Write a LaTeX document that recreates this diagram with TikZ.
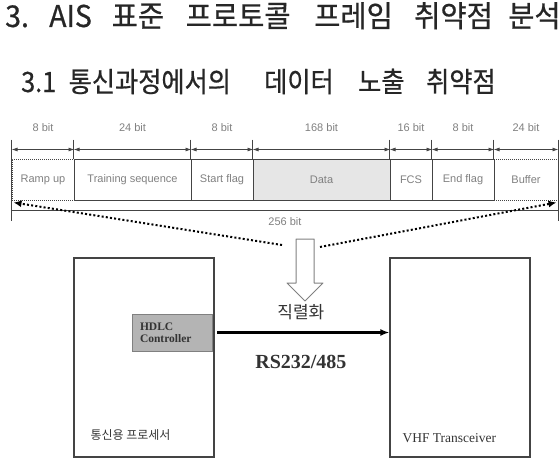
\documentclass[tikz,border=0pt]{standalone}
\usepackage{fontspec}
\setmainfont{Liberation Sans}
\newfontfamily\krfont{Noto Sans CJK KR}
\newfontfamily\krtitlefont[FakeBold=0.6, FakeStretch=0.95]{Noto Sans CJK KR}
\newfontfamily\krheadfont[FakeBold=0.6, FakeStretch=0.9]{Noto Sans CJK KR}
\newfontfamily\serifont{Liberation Serif}
\usetikzlibrary{arrows.meta}
\definecolor{framegray}{HTML}{444444}
\definecolor{textgray}{HTML}{808080}
\definecolor{datagray}{HTML}{E6E6E6}
\definecolor{hdlcgray}{HTML}{B4B4B4}
\tikzset{
  titleword/.style={anchor=base west, inner sep=0pt, text=black!85, font=\krtitlefont\fontsize{30}{33}\selectfont},
  headword/.style={anchor=base west, inner sep=0pt, text=black!85, font=\krheadfont\fontsize{28}{31}\selectfont},
  field/.style={draw=framegray, line width=1pt, text=textgray, shape=rectangle, minimum height=41pt, inner sep=0pt, font=\fontsize{11}{13}\selectfont},
  optfield/.style={field, densely dotted},
  bitlabel/.style={text=textgray, font=\fontsize{11}{13}\selectfont},
  tickline/.style={draw=framegray, line width=0.8pt},
  dimline/.style={{Latex[length=6pt,width=4pt]}-{Latex[length=6pt,width=4pt]}, line width=0.8pt, draw=framegray},
  spanline/.style={line width=2pt, dash pattern=on 2pt off 2.2pt, -{Latex[length=8pt,width=7pt]}},
  unit/.style={draw=framegray, line width=1.2pt, shape=rectangle, minimum width=140pt, minimum height=199pt},
}
\begin{document}
\begin{tikzpicture}[x=1pt, y=-1pt]
\useasboundingbox (0,0) rectangle (560,471);

% headings
\node[titleword] (title_no) at (5,27) {3.};
\node[titleword] (title_ais) at (49,27) {AIS};
\node[titleword] (title_std) at (111.5,27) {표준};
\node[titleword] (title_proto) at (185.5,27) {프로토콜};
\node[titleword] (title_frame) at (314,27) {프레임};
\node[titleword] (title_vuln) at (414,27) {취약점};
\node[titleword] (title_anal) at (508,27) {분석};
\node[headword] (sub_no) at (21,92) {3.1};
\node[headword] (sub_comm) at (68.5,92) {통신과정에서의};
\node[headword] (sub_data) at (264,92) {데이터};
\node[headword] (sub_expo) at (358,92) {노출};
\node[headword] (sub_vuln) at (426,92) {취약점};

% frame fields
\node[optfield, minimum width=62pt] (ramp_up) at (43,179.5) {Ramp up};
\node[optfield, minimum width=64pt] (buffer) at (526,179.5) {Buffer};
\node[field, minimum width=117pt] (training) at (132.5,179.5) {Training sequence};
\node[field, minimum width=62pt] (start_flag) at (222,179.5) {Start flag};
\node[field, minimum width=137pt, fill=datagray] (data) at (321.5,179.5) {Data};
\node[field, minimum width=42pt] (fcs) at (411,179.5) {FCS};
\node[field, minimum width=62pt] (end_flag) at (463,179.5) {End flag};

\draw[tickline] ([yshift=19pt]ramp_up.north west) -- ([yshift=-20pt]ramp_up.south west);
\draw[tickline] ([yshift=19pt]training.north west) -- (training.north west);
\draw[tickline] ([yshift=19pt]start_flag.north west) -- (start_flag.north west);
\draw[tickline] ([yshift=19pt]data.north west) -- (data.north west);
\draw[tickline] ([yshift=19pt]fcs.north west) -- (fcs.north west);
\draw[tickline] ([yshift=19pt]end_flag.north west) -- (end_flag.north west);
\draw[tickline] ([yshift=19pt]buffer.north west) -- (buffer.north west);
\draw[tickline] ([yshift=19pt]buffer.north east) -- ([yshift=-20pt]buffer.south east);

\draw[dimline] ([yshift=9pt]ramp_up.north west) -- node[bitlabel, yshift=22pt] {8 bit} ([yshift=9pt]ramp_up.north east);
\draw[dimline] ([yshift=9pt]training.north west) -- node[bitlabel, yshift=22pt] {24 bit} ([yshift=9pt]training.north east);
\draw[dimline] ([yshift=9pt]start_flag.north west) -- node[bitlabel, yshift=22pt] {8 bit} ([yshift=9pt]start_flag.north east);
\draw[dimline] ([yshift=9pt]data.north west) -- node[bitlabel, yshift=22pt] {168 bit} ([yshift=9pt]data.north east);
\draw[dimline] ([yshift=9pt]fcs.north west) -- node[bitlabel, yshift=22pt] {16 bit} ([yshift=9pt]fcs.north east);
\draw[dimline] ([yshift=9pt]end_flag.north west) -- node[bitlabel, yshift=22pt] {8 bit} ([yshift=9pt]end_flag.north east);
\draw[dimline] ([yshift=9pt]buffer.north west) -- node[bitlabel, yshift=22pt] {24 bit} ([yshift=9pt]buffer.north east);

\draw[tickline, line width=0.6pt] ([yshift=-10pt]ramp_up.south west) -- node[bitlabel, yshift=-11pt] {256 bit} ([yshift=-10pt]buffer.south east);

% serialisation
\coordinate (span_l) at (282,245);
\coordinate (span_r) at (320,247);
\draw[spanline] (span_l) -- ([shift={(2pt,-2pt)}]ramp_up.south west);
\draw[spanline] (span_r) -- ([shift={(-2pt,-2pt)}]buffer.south east);
\draw[draw=gray, line width=1pt, line join=round] (296,239) -- (314,239) -- (314,283) -- (323,283) -- (305,301) -- (287,283) -- (296,283) -- cycle;

\node[unit] (processor) at (144,357.5) {};
\node[unit] (transceiver) at (460,357.5) {};
\node[draw=gray, fill=hdlcgray, line width=0.8pt, minimum height=37pt, text width=64pt, inner sep=8pt, align=left, font=\serifont\bfseries\fontsize{11.5}{12}\selectfont, text=black!80] (hdlc) at (172,332.5) {HDLC\\Controller};

\draw[-{Latex[length=9pt,width=7pt]}, line width=2.2pt, shorten <=5pt] (hdlc.east) -- node[yshift=20pt, font=\krfont\fontsize{17}{20}\selectfont, text=black!80] {직렬화} node[yshift=-29pt, font=\serifont\bfseries\fontsize{20}{24}\selectfont, text=black!80] {RS232/485} (hdlc.east -| transceiver.west);

\node[anchor=west, font=\krfont\fontsize{12}{14}\selectfont, text=black!80] (processor_label) at (87,435) {통신용 프로세서};
\node[anchor=west, font=\serifont\fontsize{13.5}{15}\selectfont, text=black!80] (transceiver_label) at (399,438) {VHF Transceiver};
\end{tikzpicture}
\end{document}
